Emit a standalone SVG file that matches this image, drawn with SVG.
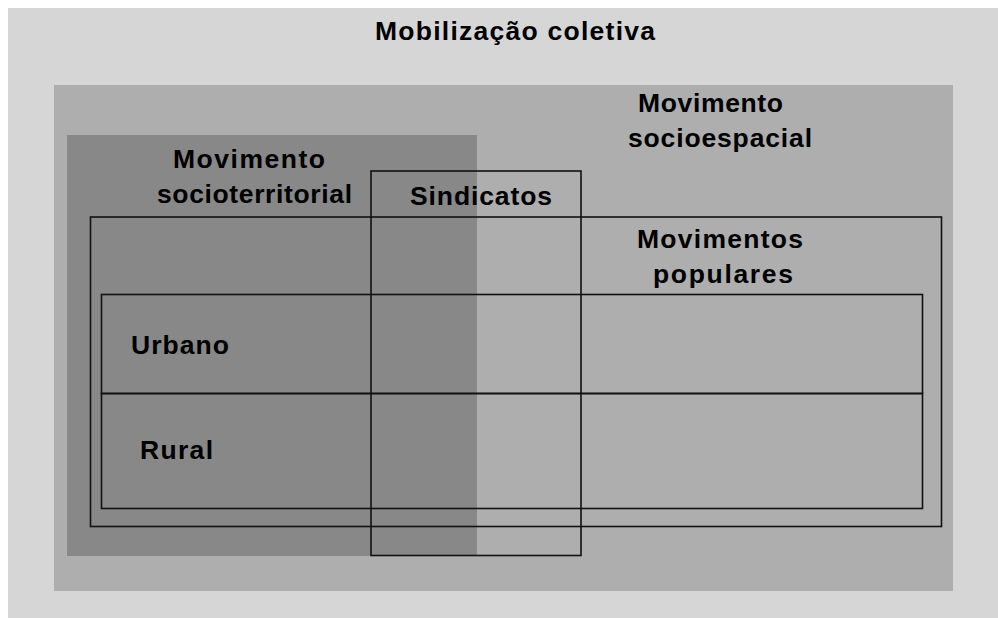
<svg xmlns="http://www.w3.org/2000/svg" width="998" height="618" viewBox="0 0 998 618">
  <style>
    .lbl { font-family: "Liberation Sans", Arial, sans-serif; font-weight: bold; font-size: 26.5px; fill: #000; }
    .box { fill: none; stroke: #111; stroke-width: 1.6; }
  </style>
  <rect x="0" y="0" width="998" height="618" fill="#ffffff"/>
  <g id="mobilizacao-coletiva">
    <rect x="8" y="8" width="990" height="610" fill="#d6d6d6"/>
    <text class="lbl" x="375" y="39.5" textLength="280" lengthAdjust="spacing">Mobilização coletiva</text>
  </g>
  <g id="movimento-socioespacial">
    <rect x="54" y="85" width="899" height="506" fill="#aeaeae"/>
    <text class="lbl" x="638" y="112" textLength="145" lengthAdjust="spacing">Movimento</text>
    <text class="lbl" x="628" y="146.5" textLength="184" lengthAdjust="spacing">socioespacial</text>
  </g>
  <g id="movimento-socioterritorial">
    <rect x="67" y="135" width="410" height="421" fill="#888888"/>
    <text class="lbl" x="173" y="168" textLength="152" lengthAdjust="spacing">Movimento</text>
    <text class="lbl" x="157" y="202.5" textLength="195" lengthAdjust="spacing">socioterritorial</text>
  </g>
  <g id="movimentos-populares">
    <rect class="box" x="90.5" y="217" width="851" height="309.5"/>
    <text class="lbl" x="637" y="248" textLength="166" lengthAdjust="spacing">Movimentos</text>
    <text class="lbl" x="653" y="283" textLength="140" lengthAdjust="spacing">populares</text>
  </g>
  <g id="urbano">
    <rect class="box" x="101.5" y="294.5" width="821" height="99"/>
    <text class="lbl" x="131" y="354" textLength="98" lengthAdjust="spacing">Urbano</text>
  </g>
  <g id="rural">
    <rect class="box" x="101.5" y="393.5" width="821" height="115"/>
    <text class="lbl" x="140" y="459" textLength="73" lengthAdjust="spacing">Rural</text>
  </g>
  <g id="sindicatos">
    <rect class="box" x="371" y="171" width="210" height="384.5"/>
    <text class="lbl" x="410" y="205" textLength="142" lengthAdjust="spacing">Sindicatos</text>
  </g>
</svg>
